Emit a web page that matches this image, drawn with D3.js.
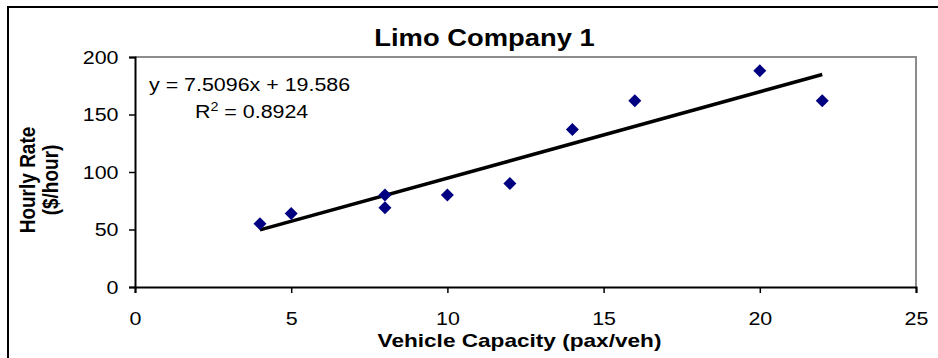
<!DOCTYPE html>
<html>
<head>
<meta charset="utf-8">
<script src="https://cdn.jsdelivr.net/npm/d3@7"></script>
<style>
  body { margin: 0; background: #fff; }
  svg text { font-family: "Liberation Sans", Arial, sans-serif; fill: #000; }
</style>
</head>
<body>
<div id="chart"></div>
<script>
// data
const capacity = [4, 5, 8, 8, 10, 12, 14, 16, 20, 22];
const hourlyRate = [55, 64, 80, 69, 80, 90, 137, 162, 188, 162];
const xTicks = [0, 5, 10, 15, 20, 25];
const yTicks = [0, 50, 100, 150, 200];
const trendSlope = 7.5096;
const trendIntercept = 19.586;
const trendRange = [4, 22];
const equationText = "y = 7.5096x + 19.586";
const r2Text = "0.8924";

const W = 938, H = 358;
const SX = 1.19; // the reference text looks stretched horizontally

const svg = d3.select('#chart').append('svg')
    .attr('width', W).attr('height', H);

// outer chart border (runs off right and bottom)
svg.append('rect')
    .attr('x', 8).attr('y', 7).attr('width', 950).attr('height', 380)
    .attr('fill', 'none').attr('stroke', '#000').attr('stroke-width', 2);

const x = d3.scaleLinear().domain([0, 25]).range([135, 916]);
const y = d3.scaleLinear().domain([0, 200]).range([287, 57]);

// plot area border (grey top/right)
svg.append('path')
    .attr('d', `M${x(0)},${y(200)}H${x(25)}V${y(0)}`)
    .attr('fill', 'none').attr('stroke', '#8c8c8c').attr('stroke-width', 2);

function stretchedText(g, tx, ty, txt, size, weight, anchor) {
    return g.append('g')
        .attr('transform', `translate(${tx},${ty}) scale(${SX},1)`)
        .append('text')
        .attr('text-anchor', anchor || 'middle')
        .style('font-size', size + 'px')
        .style('font-weight', weight || 'normal')
        .text(txt);
}

// axes
const xAxisG = svg.append('g')
    .attr('transform', `translate(0,${y(0)})`)
    .call(d3.axisBottom(x).tickValues(xTicks).tickSize(6).tickFormat(d3.format('d')));
xAxisG.select('.domain').attr('stroke', '#000').attr('stroke-width', 2);
xAxisG.selectAll('.tick line').attr('stroke', '#000').attr('stroke-width', 1.5);
xAxisG.selectAll('.tick text')
    .attr('y', 38).attr('dy', 0)
    .attr('transform', `scale(${SX},1)`)
    .style('font-size', '18px');

const yAxisG = svg.append('g')
    .attr('transform', `translate(${x(0)},0)`)
    .call(d3.axisLeft(y).tickValues(yTicks).tickSize(6).tickFormat(d3.format('d')));
yAxisG.select('.domain').attr('stroke', '#000').attr('stroke-width', 2);
yAxisG.selectAll('.tick line').attr('stroke', '#000').attr('stroke-width', 1.5);
yAxisG.selectAll('.tick text')
    .attr('x', -16.5 / SX).attr('dy', '0.35em')
    .attr('transform', `scale(${SX},1)`)
    .style('font-size', '18px');
svg.selectAll('.tick text').attr('fill', '#000').style('font-family', '"Liberation Sans", Arial, sans-serif');

// trendline
svg.append('line')
    .attr('x1', x(trendRange[0])).attr('y1', y(trendSlope * trendRange[0] + trendIntercept))
    .attr('x2', x(trendRange[1])).attr('y2', y(trendSlope * trendRange[1] + trendIntercept))
    .attr('stroke', '#000').attr('stroke-width', 3.5);

// markers (diamonds)
const pts = capacity.map((c, i) => ({ c, r: hourlyRate[i] }));
const dr = 6.5;
svg.append('g').selectAll('path')
    .data(pts)
    .join('path')
    .attr('d', d => `M${x(d.c)},${y(d.r) - dr}L${x(d.c) + dr},${y(d.r)}L${x(d.c)},${y(d.r) + dr}L${x(d.c) - dr},${y(d.r)}Z`)
    .attr('fill', '#000080');

// equation labels
stretchedText(svg, 149, 91, equationText, 18, 'normal', 'start');
const r2 = svg.append('g')
    .attr('transform', `translate(195,118) scale(${SX},1)`)
    .append('text')
    .style('font-size', '18px');
r2.append('tspan').text('R');
r2.append('tspan').attr('dy', -7).style('font-size', '12px').text('2');
r2.append('tspan').attr('dy', 7).text(' = ' + r2Text);

// titles
stretchedText(svg, 484.5, 46, 'Limo Company 1', 23, 'bold');
stretchedText(svg, 519.5, 347, 'Vehicle Capacity (pax/veh)', 19, 'bold');

const yTitle = svg.append('g')
    .attr('transform', `translate(35,180) scale(${SX},1) rotate(-90)`);
yTitle.append('text').attr('text-anchor', 'middle')
    .style('font-size', '19px').style('font-weight', 'bold')
    .text('Hourly Rate');
yTitle.append('text').attr('text-anchor', 'middle').attr('y', 19)
    .style('font-size', '19px').style('font-weight', 'bold')
    .text('($/hour)');
</script>
</body>
</html>
